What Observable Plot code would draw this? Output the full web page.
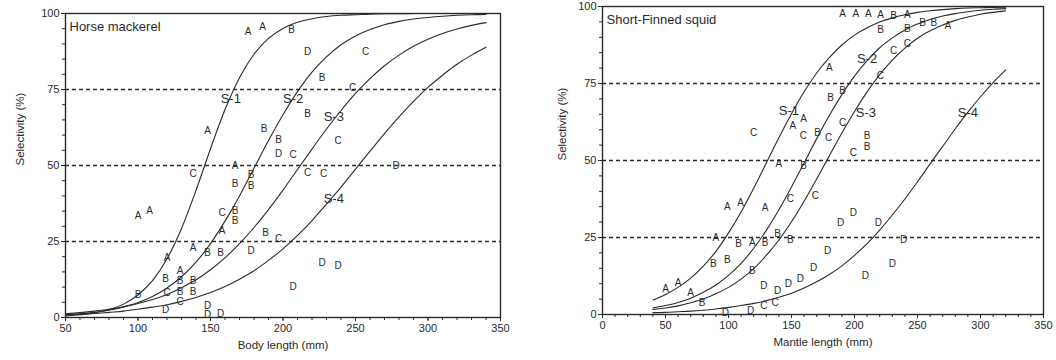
<!DOCTYPE html>
<html>
<head>
<meta charset="utf-8">
<script src="https://cdn.jsdelivr.net/npm/d3@7"></script>
<script src="https://cdn.jsdelivr.net/npm/@observablehq/plot@0.6"></script>
<style>
  html, body { margin: 0; padding: 0; background: #fff; overflow: hidden; }
  #wrap { display: flex; width: 1056px; height: 360px; }
</style>
</head>
<body>
<div id="wrap"></div>
<script>
// ---------- Horse mackerel (left panel) ----------
const hmTitle = "Horse mackerel";
const hmXLabel = "Body length (mm)";
const hmXTicks = [50, 100, 150, 200, 250, 300, 350];
const hmCurveX = [50,60,70,80,90,100,110,120,130,140,150,160,170,180,190,200,210,220,230,240,250,260,270,280,290,300,310,320,330,340];
const hmS1 = [0.5,0.9,1.5,2.6,4.4,7.4,12.1,19.3,29.3,41.8,55.5,68.4,78.9,86.6,91.8,95.1,97.1,98.3,99.0,99.4,99.6,99.8,99.9,99.9,100,100,100,100,100,100];
const hmS2 = [0.8,1.2,1.7,2.4,3.5,4.9,6.9,9.7,13.4,18.2,24.3,31.7,40.0,49.1,58.2,66.7,74.3,80.7,85.7,89.7,92.6,94.7,96.3,97.4,98.2,98.7,99.1,99.4,99.6,99.7];
const hmS3 = [1.2,1.6,2.1,2.7,3.5,4.6,5.9,7.6,9.8,12.4,15.7,19.6,24.3,29.6,35.5,41.9,48.7,55.4,62.0,68.1,73.7,78.6,82.8,86.3,89.2,91.5,93.4,94.9,96.1,97.0];
const hmS4 = [0.8,1.1,1.3,1.7,2.1,2.7,3.4,4.2,5.3,6.6,8.2,10.2,12.6,15.4,18.8,22.6,27.0,31.9,37.3,42.9,48.8,54.7,60.5,66.0,71.1,75.7,79.7,83.3,86.3,88.9];
const hmCurveNames = ["S-1", "S-2", "S-3", "S-4"];
const hmCurveLabelX = [164, 207, 235, 235];
const hmCurveLabelY = [72, 72, 66, 39];
// observed points: mesh letter, length, selectivity
const hmPtLetter = ["A","A","A","A","A","A","A","A","A","A",
  "B","B","B","B","B","B","B","B","B","B","B","B","B","B","B","B","B","B","B",
  "C","C","C","C","C","C","C","C","C","C","C",
  "D","D","D","D","D","D","D","D","D","D","D"];
const hmPtLen = [100,108,120,129,138,148,158,167,176,186,
  100,119,129,129,138,138,148,157,167,167,167,178,178,187,188,197,206,217,227,
  120,129,138,158,197,207,217,228,238,248,257,
  119,148,148,157,178,197,207,217,227,238,278];
const hmPtSel = [33.5,35,19.7,15.5,23,61.3,28.5,49.8,94,95.7,
  7.5,12.8,12,8.6,12,8.6,21.3,21.3,43.9,35.2,31.8,46.8,43.4,62,28,58.4,94.7,66.9,78.7,
  8.2,5.2,47.2,34.4,26,53.4,47.5,47.2,58,75.4,87.5,
  2.6,4,0.8,1.3,22,54,10,87.5,18,17,50];

// ---------- Short-Finned squid (right panel) ----------
const sqTitle = "Short-Finned squid";
const sqXLabel = "Mantle length (mm)";
const sqXTicks = [0, 50, 100, 150, 200, 250, 300, 350];
const sqCurveX = [40,50,60,70,80,90,100,110,120,130,140,150,160,170,180,190,200,210,220,230,240,250,260,270,280,290,300,310,320];
const sqS1 = [4.7,6.5,8.8,11.8,15.7,20.5,26.5,33.3,41.0,49.2,57.4,65.2,72.3,78.4,83.4,87.5,90.7,93.1,95.0,96.3,97.3,98.1,98.6,99.0,99.3,99.5,99.6,99.7,99.8];
const sqS2 = [2.1,2.9,3.9,5.3,7.2,9.6,12.7,16.6,21.5,27.3,34.0,41.4,49.2,57.1,64.6,71.4,77.4,82.4,86.6,89.8,92.4,94.3,95.8,96.9,97.7,98.3,98.8,99.1,99.3];
const sqS3 = [1.6,2.1,2.8,3.8,5.0,6.7,8.8,11.5,14.9,19.2,24.2,30.1,36.8,44.0,51.5,58.9,65.9,72.3,77.9,82.6,86.5,89.7,92.1,94.0,95.5,96.6,97.5,98.1,98.6];
const sqS4 = [0.6,0.7,0.9,1.1,1.4,1.8,2.3,2.9,3.6,4.5,5.6,6.9,8.6,10.6,13.0,15.8,19.2,23.0,27.4,32.3,37.5,43.1,48.9,54.6,60.3,65.7,70.7,75.3,79.4];
const sqCurveNames = ["S-1", "S-2", "S-3", "S-4"];
const sqCurveLabelX = [148, 210, 209, 290];
const sqCurveLabelY = [66, 83, 65.5, 65.5];
const sqPtLetter = ["A","A","A","A","A","A","A","A","A","A","A","A","A","A","A","A","A","A",
  "B","B","B","B","B","B","B","B","B","B","B","B","B","B","B","B","B","B","B",
  "C","C","C","C","C","C","C","C","C","C","C","C",
  "D","D","D","D","D","D","D","D","D","D","D","D","D","D"];
const sqPtLen = [50,60,70,90,99,109.5,119,129,140,151,159.5,180,190.5,201,211,220.6,242,274,
  79,88,99,108,119,129,139,149,159.5,170.6,181,190.5,210,210,220.6,231,242,254,263,
  120,159.5,179.4,190.5,199,220.6,231,242,149,169,128,137,
  97.6,117.5,128,139,147.6,157,167.5,178.6,189,199,208.7,219,230,239];
const sqPtSel = [8.4,10.4,7,25,35,36.4,23.4,34.7,49,61.4,63.6,80.2,97.7,97.7,97.7,97.2,97.2,93.8,
  3.9,16.6,17.9,23,14.3,23.4,26.3,24.4,48.4,59.1,70.5,72.7,58,54.3,92.5,97,92.6,94.8,94.8,
  59,58.1,57.5,62.3,52.6,77.6,85.7,88,37.7,38.6,2.9,3.9,
  0.5,1.3,9.4,7.8,10,11.7,15.3,20.8,29.9,33.1,12.7,29.9,16.6,24.4];

const yTicks = [0, 25, 50, 75, 100];
const gridY = [25, 50, 75];
const yLabel = "Selectivity (%)";

const ink = "#2a2a2a";

function panel(cfg) {
  const curveRows = [];
  cfg.curves.forEach((vals, k) => {
    vals.forEach((v, i) => curveRows.push({s: cfg.names[k], x: cfg.curveX[i], y: v}));
  });
  const pts = cfg.letters.map((l, i) => ({l, x: cfg.len[i], y: cfg.sel[i]}));
  const labs = cfg.names.map((n, i) => ({n, x: cfg.labX[i], y: cfg.labY[i]}));
  const xMinor = d3.range(cfg.xDomain[0], cfg.xDomain[1] + 0.1, 10);
  const yMinor = d3.range(0, 100.1, 5);
  return Plot.plot({
    width: cfg.width,
    height: 360,
    marginLeft: cfg.ml, marginRight: cfg.mr, marginTop: cfg.mt, marginBottom: cfg.mb,
    x: {domain: cfg.xDomain},
    y: {domain: [0, 100]},
    style: {fontFamily: "'Liberation Sans', Arial, sans-serif", fontSize: "11px", color: ink, background: "#fff"},
    marks: [
      Plot.ruleY(gridY, {stroke: ink, strokeWidth: 1.3, strokeDasharray: "4,3"}),
      Plot.axisY(yMinor, {tickSize: 3, tickFormat: () => "", label: null, stroke: ink}),
      Plot.axisY(yTicks, {tickSize: 4, tickPadding: 2, label: null, stroke: ink}),
      Plot.axisX(xMinor, {tickSize: 3, tickFormat: () => "", label: null, stroke: ink}),
      Plot.axisX(cfg.xTicks, {tickSize: 4, tickPadding: 3, label: null, stroke: ink}),
      Plot.line(curveRows, {x: "x", y: "y", z: "s", stroke: ink, strokeWidth: 1.1, curve: "monotone-x"}),
      Plot.text(pts, {x: "x", y: "y", text: "l", fontSize: 10, fill: ink}),
      Plot.text(labs, {x: "x", y: "y", text: "n", fontSize: 13, fill: ink}),
      Plot.frame({stroke: ink, strokeWidth: 1.4}),
      Plot.text([cfg.title], {frameAnchor: "top-left", textAnchor: "start", dx: 4, dy: 8, fontSize: 13, fill: ink}),
      Plot.text([cfg.xLabel], {frameAnchor: "bottom", dy: 31, fontSize: 11.5, fill: ink}),
      Plot.text([yLabel], {frameAnchor: "left", rotate: -90, dx: cfg.yLabDx, fontSize: 11.5, fill: ink})
    ]
  });
}

const wrap = document.getElementById("wrap");
wrap.append(panel({
  width: 520, ml: 65, mr: 20, mt: 13, mb: 43,
  xDomain: [50, 350], xTicks: hmXTicks,
  curveX: hmCurveX, curves: [hmS1, hmS2, hmS3, hmS4], names: hmCurveNames,
  labX: hmCurveLabelX, labY: hmCurveLabelY,
  letters: hmPtLetter, len: hmPtLen, sel: hmPtSel,
  title: hmTitle, xLabel: hmXLabel, yLabDx: -45
}));
wrap.append(panel({
  width: 536, ml: 82, mr: 13, mt: 6, mb: 46,
  xDomain: [0, 350], xTicks: sqXTicks,
  curveX: sqCurveX, curves: [sqS1, sqS2, sqS3, sqS4], names: sqCurveNames,
  labX: sqCurveLabelX, labY: sqCurveLabelY,
  letters: sqPtLetter, len: sqPtLen, sel: sqPtSel,
  title: sqTitle, xLabel: sqXLabel, yLabDx: -40
}));
</script>
</body>
</html>
